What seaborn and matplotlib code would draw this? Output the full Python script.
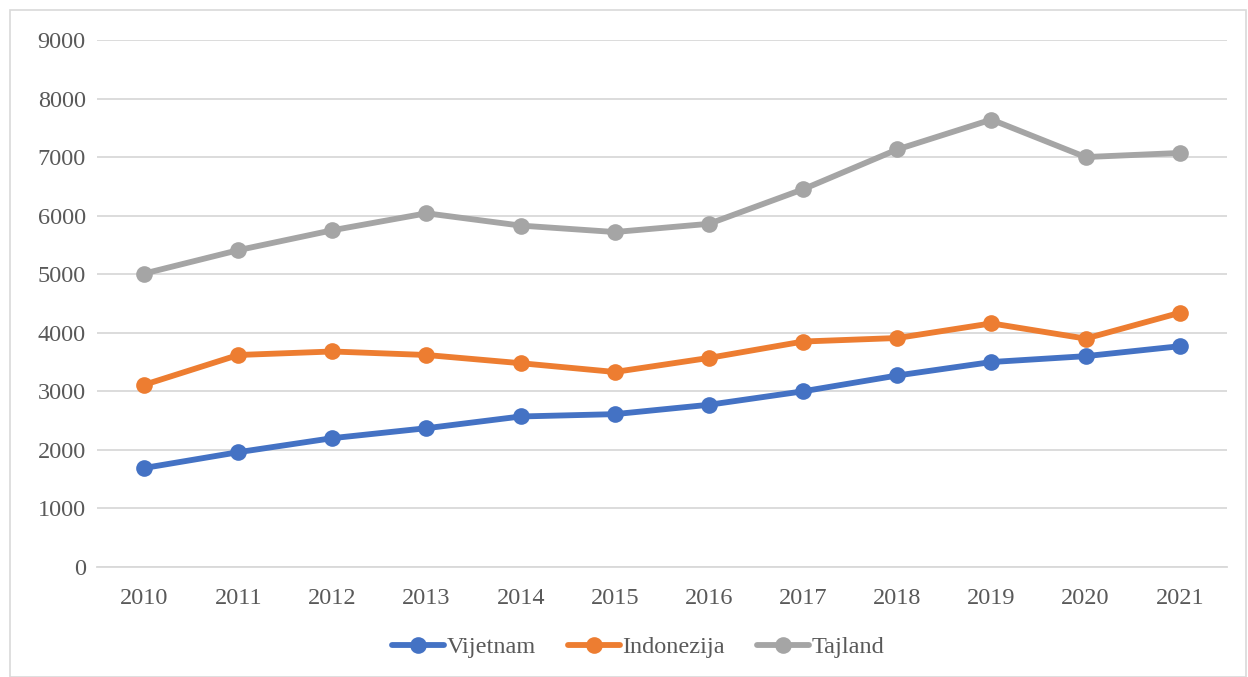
import numpy as np
import pandas as pd
import seaborn as sns
import matplotlib.pyplot as plt
from matplotlib.patches import Rectangle

years = [2010, 2011, 2012, 2013, 2014, 2015, 2016, 2017, 2018, 2019, 2020, 2021]
vijetnam = [1690, 1960, 2200, 2370, 2570, 2610, 2770, 3000, 3270, 3500, 3600, 3770]
indonezija = [3110, 3620, 3680, 3620, 3480, 3330, 3570, 3850, 3910, 4160, 3900, 4340]
tajland = [5010, 5410, 5750, 6040, 5830, 5720, 5860, 6450, 7130, 7640, 7000, 7070]
series = ["Vijetnam", "Indonezija", "Tajland"]
colors = ["#4472C4", "#ED7D31", "#A5A5A5"]

df = pd.DataFrame({"Godina": [str(y) for y in years] * 3,
                   "Vrijednost": vijetnam + indonezija + tajland,
                   "Zemlja": [s for s in series for _ in years]})

sns.set_style("white")
plt.rcParams['font.family'] = ['Liberation Serif', 'DejaVu Serif']

fig = plt.figure(figsize=(12.48, 6.77), dpi=100)
ax = fig.add_axes([0.0777, 0.1625, 0.9053, 0.7785])

sns.lineplot(data=df, x="Godina", y="Vrijednost", hue="Zemlja", palette=colors,
             marker="o", markersize=12, markeredgewidth=0, linewidth=4.2,
             sort=False, ax=ax)

ax.set_xlim(-0.5, len(years) - 0.5)
ax.set_ylim(0, 9000)
ax.set_yticks(range(0, 9001, 1000))
ax.grid(axis="y", color="#D9D9D9", linewidth=1.3)
ax.set_axisbelow(True)
for s in ["top", "right", "left"]:
    ax.spines[s].set_visible(False)
ax.spines["bottom"].set_color("#D9D9D9")
ax.spines["bottom"].set_linewidth(1.3)
ax.tick_params(axis="both", length=0, labelsize=17.5, labelcolor="#595959")
ax.tick_params(axis="x", pad=15)
ax.tick_params(axis="y", pad=8)
ax.set_xlabel("")
ax.set_ylabel("")

leg = ax.legend(loc="upper center", bbox_to_anchor=(0.479, -0.09), ncol=3, frameon=False,
                fontsize=17.5, handlelength=2.15, handletextpad=0.1, columnspacing=1.3)
for t in leg.get_texts():
    t.set_color("#595959")

fig.patches.append(Rectangle((0.008, 0.0), 0.99, 0.985, transform=fig.transFigure,
                             fill=False, edgecolor="#D9D9D9", linewidth=1.2))

fig.savefig("out.png", dpi=100)
